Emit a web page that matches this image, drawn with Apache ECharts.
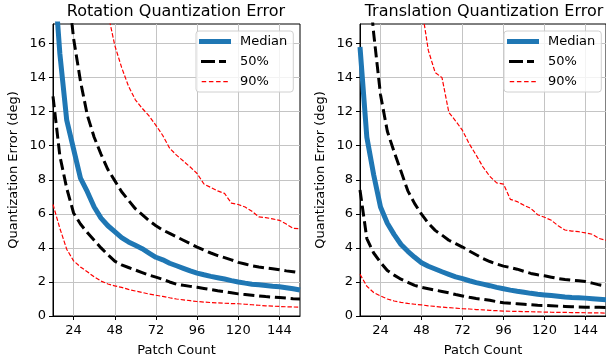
<!DOCTYPE html>
<html>
<head>
<meta charset="utf-8">
<script src="https://cdn.jsdelivr.net/npm/echarts@6/dist/echarts.min.js"></script>
<style>
  html, body { margin: 0; padding: 0; background: #fff; }
  #chart { width: 606px; height: 362px; }
</style>
</head>
<body>
<div id="chart"></div>
<script>
// patch counts on the x axis
var patchCounts = [12, 16, 20, 24, 28, 32, 36, 40, 44, 48, 52, 56, 60, 64, 68, 72, 76, 80, 84, 88, 92, 96, 100, 104, 108, 112, 116, 120, 124, 128, 132, 136, 140, 144, 148, 152, 156]

// rotation quantization error (deg)
var rotMedian = [21, 15.4, 11.5, 9.8, 8.1, 7.3, 6.4, 5.75, 5.3, 4.95, 4.6, 4.35, 4.15, 3.95, 3.7, 3.45, 3.3, 3.1, 2.95, 2.8, 2.65, 2.52, 2.42, 2.33, 2.25, 2.17, 2.08, 2.0, 1.93, 1.87, 1.83, 1.79, 1.75, 1.72, 1.66, 1.6, 1.53]
var rotLow50 = [12.9, 9.4, 7.5, 6.05, 5.4, 4.9, 4.45, 4.0, 3.6, 3.22, 3.0, 2.85, 2.7, 2.55, 2.4, 2.28, 2.15, 2.0, 1.87, 1.8, 1.74, 1.69, 1.62, 1.55, 1.48, 1.42, 1.36, 1.3, 1.26, 1.22, 1.18, 1.14, 1.11, 1.08, 1.05, 1.02, 1.0]
var rotHigh50 = [32, 25, 20, 16.3, 13.8, 11.8, 10.5, 9.5, 8.6, 7.95, 7.3, 6.8, 6.3, 5.95, 5.6, 5.3, 5.05, 4.85, 4.65, 4.45, 4.25, 4.05, 3.87, 3.7, 3.55, 3.43, 3.3, 3.15, 3.05, 2.95, 2.88, 2.82, 2.77, 2.72, 2.65, 2.6, 2.54]
var rotLow90 = [6.55, 5.15, 3.92, 3.24, 2.88, 2.6, 2.3, 2.05, 1.88, 1.77, 1.68, 1.56, 1.47, 1.38, 1.29, 1.22, 1.15, 1.07, 1.0, 0.95, 0.9, 0.85, 0.82, 0.79, 0.77, 0.75, 0.73, 0.72, 0.69, 0.66, 0.63, 0.6, 0.58, 0.56, 0.54, 0.53, 0.52]
var rotHigh90 = [40, 36, 32, 29, 26, 24, 21, 19.5, 17.8, 15.9, 14.6, 13.5, 12.7, 12.2, 11.75, 11.2, 10.6, 9.85, 9.45, 9.1, 8.75, 8.37, 7.75, 7.55, 7.35, 7.2, 6.63, 6.55, 6.4, 6.15, 5.82, 5.78, 5.7, 5.62, 5.4, 5.15, 5.12]

// translation quantization error
var transMedian = [15.8, 10.5, 8.3, 6.4, 5.45, 4.78, 4.2, 3.8, 3.45, 3.13, 2.92, 2.76, 2.6, 2.45, 2.3, 2.19, 2.07, 1.96, 1.87, 1.78, 1.68, 1.6, 1.52, 1.45, 1.39, 1.33, 1.28, 1.24, 1.2, 1.16, 1.12, 1.09, 1.07, 1.05, 1.02, 0.99, 0.96]
var transLow50 = [7.4, 4.55, 3.7, 3.15, 2.67, 2.4, 2.16, 1.98, 1.8, 1.68, 1.6, 1.52, 1.44, 1.36, 1.26, 1.18, 1.1, 1.03, 0.98, 0.92, 0.84, 0.78, 0.75, 0.72, 0.69, 0.66, 0.63, 0.62, 0.6, 0.58, 0.56, 0.54, 0.53, 0.52, 0.52, 0.51, 0.5]
var transHigh50 = [26, 21, 16.6, 13.0, 10.85, 9.63, 8.5, 7.35, 6.6, 5.98, 5.45, 5.03, 4.75, 4.45, 4.25, 4.05, 3.82, 3.6, 3.38, 3.2, 3.05, 2.93, 2.85, 2.75, 2.62, 2.5, 2.42, 2.36, 2.28, 2.2, 2.14, 2.1, 2.07, 2.02, 1.93, 1.83, 1.75]
var transLow90 = [2.45, 1.75, 1.38, 1.18, 1.0, 0.88, 0.8, 0.74, 0.69, 0.65, 0.6, 0.56, 0.52, 0.49, 0.46, 0.43, 0.41, 0.38, 0.36, 0.33, 0.31, 0.29, 0.28, 0.27, 0.26, 0.25, 0.24, 0.23, 0.22, 0.21, 0.21, 0.2, 0.2, 0.19, 0.18, 0.18, 0.17]
var transHigh90 = [48, 43, 39, 35, 32, 29.5, 27, 24.5, 21.5, 18.2, 15.6, 14.3, 14.0, 11.96, 11.45, 10.9, 10.1, 9.45, 8.75, 8.2, 7.82, 7.75, 6.85, 6.72, 6.5, 6.32, 5.95, 5.8, 5.62, 5.3, 5.05, 4.99, 4.95, 4.88, 4.8, 4.55, 4.45]

var xTicks = [24, 48, 72, 96, 120, 144]
var yTicks = [0, 2, 4, 6, 8, 10, 12, 14, 16]

var FONT = 'DejaVu Sans'
var BLUE = '#1f77b4'

// legend handles, drawn in a 36x12 box (corner specks keep the box size)
var corners = 'M0,0h0.01v0.01h-0.01z M35.99,11.99h0.01v0.01h-0.01z '
var iconMedian = 'path://' + corners + 'M0,3.5h32v5h-32z'
var iconBlack = 'path://' + corners + 'M2,4.5h14v3h-14z M20,4.5h7v3h-7z'
var iconRed = 'path://' + corners + 'M2.7,5.4h4.5v1.3h-4.5z M9.9,5.4h4.5v1.3h-4.5z M17.1,5.4h4.5v1.3h-4.5z M24.3,5.4h4.5v1.3h-4.5z'

function pairs (ys) {
  return patchCounts.map(function (x, i) { return [x, ys[i]] })
}

function makeXAxis (gridIndex) {
  return {
    type: 'value',
    gridIndex: gridIndex,
    min: 12,
    max: 156,
    name: 'Patch Count',
    nameLocation: 'middle',
    nameGap: 28,
    nameTextStyle: { fontFamily: FONT, fontSize: 13, color: '#000' },
    axisLine: { show: true, onZero: false, lineStyle: { color: '#000', width: 1 } },
    axisTick: { show: true, length: 4, customValues: xTicks, lineStyle: { color: '#000', width: 1 } },
    axisLabel: { customValues: xTicks, fontFamily: FONT, fontSize: 13, color: '#000', margin: 8 },
    splitLine: { show: true, lineStyle: { color: '#c4c4c4', width: 1 } }
  }
}

function makeYAxis (gridIndex) {
  return {
    type: 'value',
    gridIndex: gridIndex,
    min: 0,
    max: 17.15,
    name: 'Quantization Error (deg)',
    nameLocation: 'middle',
    nameGap: 33,
    nameTextStyle: { fontFamily: FONT, fontSize: 13, color: '#000' },
    axisLine: { show: true, lineStyle: { color: '#000', width: 1 } },
    axisTick: { show: true, length: 4, customValues: yTicks, lineStyle: { color: '#000', width: 1 } },
    axisLabel: { customValues: yTicks, fontFamily: FONT, fontSize: 13, color: '#000', margin: 7 },
    splitLine: { show: true, lineStyle: { color: '#c4c4c4', width: 1 } }
  }
}

function makeLegend (left) {
  return {
    orient: 'vertical',
    left: left,
    top: 31,
    padding: [4, 6, 4, 3],
    itemGap: 7,
    itemWidth: 36,
    itemHeight: 12,
    symbolKeepAspect: false,
    selectedMode: false,
    backgroundColor: 'rgba(255,255,255,0.8)',
    borderColor: '#d0d0d0',
    borderWidth: 1,
    borderRadius: 3,
    itemStyle: { borderWidth: 0 },
    textStyle: { fontFamily: FONT, fontSize: 13, color: '#000' },
    data: [
      { name: 'Median', icon: iconMedian },
      { name: '50%', icon: iconBlack },
      { name: '90%', icon: iconRed }
    ]
  }
}

function line (name, gridIndex, ys, color, width, dash) {
  return {
    name: name,
    type: 'line',
    xAxisIndex: gridIndex,
    yAxisIndex: gridIndex,
    data: pairs(ys),
    symbol: 'none',
    showSymbol: false,
    silent: true,
    color: color,
    lineStyle: { color: color, width: width, type: dash || 'solid' }
  }
}

function makeSeries (gridIndex, median, low50, high50, low90, high90) {
  return [
    line('Median', gridIndex, median, BLUE, 5),
    line('50%', gridIndex, low50, '#000', 3, [11, 4.8]),
    line('50%', gridIndex, high50, '#000', 3, [11, 4.8]),
    line('90%', gridIndex, low90, '#ff0000', 1.2, [4.4, 1.9]),
    line('90%', gridIndex, high90, '#ff0000', 1.2, [4.4, 1.9])
  ]
}

var chart = echarts.init(document.getElementById('chart'), null, { renderer: 'canvas' })

chart.setOption({
  animation: false,
  backgroundColor: '#fff',
  title: [
    { text: 'Rotation Quantization Error', left: 176, top: 4, textAlign: 'center', padding: 0,
      textStyle: { fontFamily: FONT, fontSize: 16, fontWeight: 'normal', color: '#000' } },
    { text: 'Translation Quantization Error', left: 484, top: 4, textAlign: 'center', padding: 0,
      textStyle: { fontFamily: FONT, fontSize: 16, fontWeight: 'normal', color: '#000' } }
  ],
  grid: [
    { left: 53, top: 24, width: 247, height: 295, show: true, borderColor: '#000', borderWidth: 1, backgroundColor: 'transparent' },
    { left: 360, top: 24, width: 247.5, height: 295, show: true, borderColor: '#000', borderWidth: 1, backgroundColor: 'transparent' }
  ],
  legend: [makeLegend(196), makeLegend(504)],
  xAxis: [makeXAxis(0), makeXAxis(1)],
  yAxis: [makeYAxis(0), makeYAxis(1)],
  series: makeSeries(0, rotMedian, rotLow50, rotHigh50, rotLow90, rotHigh90)
    .concat(makeSeries(1, transMedian, transLow50, transHigh50, transLow90, transHigh90))
})
</script>
</body>
</html>
